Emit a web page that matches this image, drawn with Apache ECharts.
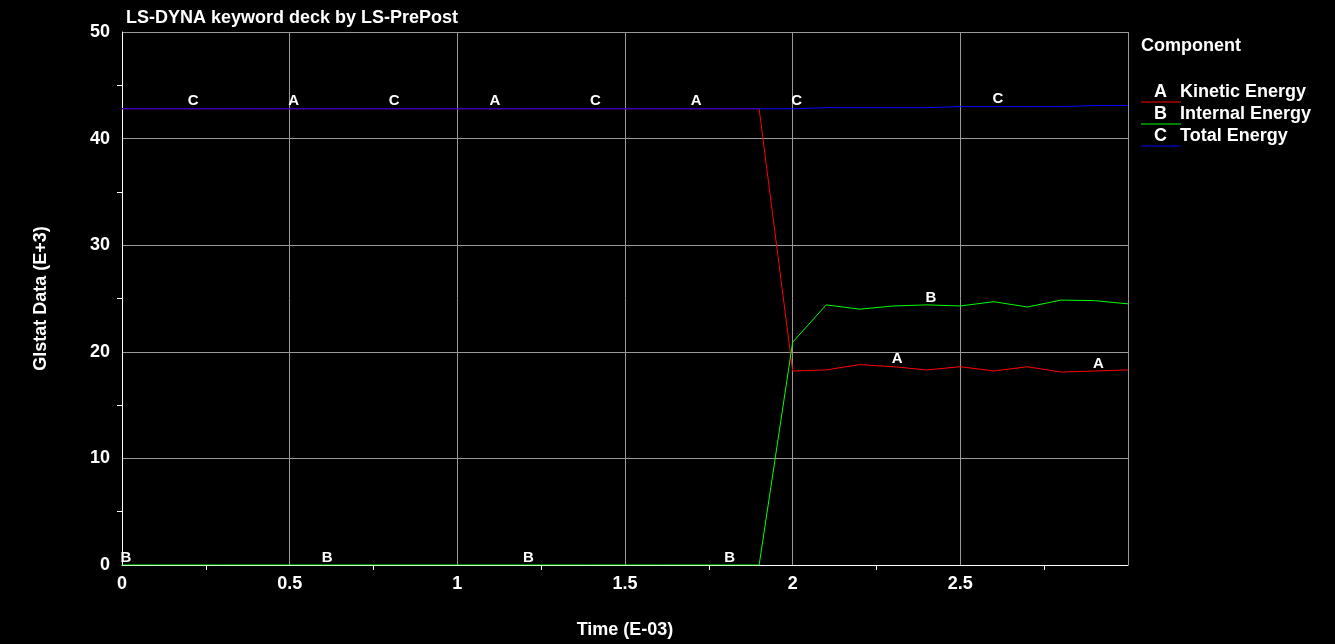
<!DOCTYPE html>
<html><head><meta charset="utf-8">
<script src="https://cdn.jsdelivr.net/npm/echarts@6/dist/echarts.min.js"></script>
<style>html,body{margin:0;background:#000}#c{width:1335px;height:644px}</style>
</head><body><div id="c"></div>
<script>
// time axis, E-03
const times = [0,0.1,0.2,0.3,0.4,0.5,0.6,0.7,0.8,0.9,1.0,1.1,1.2,1.3,1.4,1.5,1.6,1.7,1.8,1.9,2.0,2.1,2.2,2.3,2.4,2.5,2.6,2.7,2.8,2.9,3.0];
const kinetic = [42.8,42.8,42.8,42.8,42.8,42.8,42.8,42.8,42.8,42.8,42.8,42.8,42.8,42.8,42.8,42.8,42.8,42.8,42.8,42.8,18.2,18.3,18.8,18.6,18.3,18.6,18.2,18.6,18.1,18.2,18.3];
const internal = [0,0,0,0,0,0,0,0,0,0,0,0,0,0,0,0,0,0,0,0,20.9,24.4,24.0,24.3,24.4,24.3,24.7,24.2,24.85,24.8,24.5];
const total = [42.8,42.8,42.8,42.8,42.8,42.8,42.8,42.8,42.8,42.8,42.8,42.8,42.8,42.8,42.8,42.8,42.8,42.8,42.8,42.8,42.8,42.9,42.9,42.9,42.9,43.0,43.0,43.0,43.0,43.1,43.1];
// where the curve letters sit (indices into times)
const labelIdxA = [5,11,17,23,29];
const labelIdxB = [0,6,12,18,24];
const labelIdxC = [2,8,14,20,26];
const names = ['Kinetic Energy','Internal Energy','Total Energy'];
const colors = ['#ff0000','#00ff00','#0000ff'];

const pts = arr => times.map((t,i)=>[t,arr[i]]);
const tags = (arr, idx, letter) => ({
  type:'scatter', symbolSize:0, silent:true, z:5,
  itemStyle:{opacity:1},
  data: idx.map(i=>[times[i],arr[i]]),
  label:{show:true, position:'top', distance:0, offset:[4,0], formatter:letter, color:'#ffffff', opacity:1,
    textBorderWidth:0, fontWeight:'bold', fontSize:15, fontFamily:'Liberation Sans'}
});
const line = (arr, c) => ({type:'line', data:pts(arr), symbol:'none', lineStyle:{color:c,width:1}, silent:true});

const chart = echarts.init(document.getElementById('c'));
const legendItems = [];
['A','B','C'].forEach((l,i)=>{
  const y = 93 + i*22;
  legendItems.push({type:'text', left:1154, top:y-10, style:{text:l, fill:'#fff', font:'bold 18px Liberation Sans'}});
  legendItems.push({type:'text', left:1180, top:y-10, style:{text:names[i], fill:'#fff', font:'bold 18px Liberation Sans'}});
  legendItems.push({type:'line', shape:{x1:1141,y1:y+9,x2:1181,y2:y+9}, style:{stroke:colors[i],lineWidth:1}});
});
const axisFont = {color:'#fff', fontSize:18, fontWeight:'bold', fontFamily:'Liberation Sans'};
chart.setOption({
  backgroundColor:'#000',
  animation:false,
  title:{text:'LS-DYNA keyword deck by LS-PrePost', left:121, top:4, textStyle:{color:'#fff', fontSize:18, fontWeight:'bold', fontFamily:'Liberation Sans'}},
  grid:{left:122, right:207, top:32, bottom:78},
  xAxis:{type:'value', min:0, max:3, interval:0.5, name:'Time (E-03)', nameLocation:'middle', nameGap:56,
    nameTextStyle:axisFont,
    axisLine:{lineStyle:{color:'#fff'}}, axisTick:{show:false},
    minorTick:{show:true, splitNumber:2, length:5, lineStyle:{color:'#fff'}},
    axisLabel:Object.assign({showMaxLabel:false, margin:10}, axisFont),
    splitLine:{show:true, lineStyle:{color:'#999', width:1}}},
  yAxis:{type:'value', min:0, max:50, interval:10, name:'Glstat Data (E+3)', nameLocation:'middle', nameGap:72,
    nameTextStyle:axisFont,
    axisLine:{lineStyle:{color:'#fff'}}, axisTick:{show:false},
    minorTick:{show:true, splitNumber:2, length:5, lineStyle:{color:'#fff'}},
    axisLabel:Object.assign({margin:12}, axisFont),
    splitLine:{show:true, lineStyle:{color:'#999', width:1}}},
  graphic:[{type:'text', left:1141, top:37, style:{text:'Component', fill:'#fff', font:'bold 18px Liberation Sans'}}].concat(legendItems),
  series:[
    line(kinetic, colors[0]), line(internal, colors[1]), line(total, colors[2]),
    tags(kinetic, labelIdxA, 'A'), tags(internal, labelIdxB, 'B'), tags(total, labelIdxC, 'C')
  ]
});
</script></body></html>
